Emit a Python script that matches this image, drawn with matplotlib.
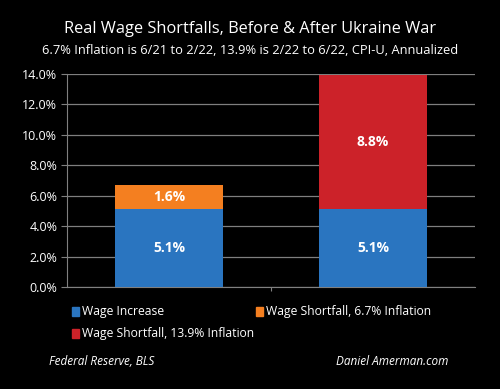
import matplotlib.pyplot as plt
from matplotlib.patches import Rectangle
import numpy as np

# data
categories = ["Before", "After"]
wage_increase = [5.1, 5.1]
shortfall_67 = [1.6, 0.0]
shortfall_139 = [0.0, 8.8]
yticks = [0, 2, 4, 6, 8, 10, 12, 14]

BLUE = "#2a75c0"
ORANGE = "#f47f20"
RED = "#cc2229"
FONT = "Open Sans"

plt.rcParams['font.family'] = [FONT, 'DejaVu Sans']

fig = plt.figure(figsize=(5, 3.89), dpi=100, facecolor="black")
ax = fig.add_axes([0.134, 0.262, 0.816, 0.548], facecolor="black")

x = np.arange(len(categories))
w = 0.525
ax.bar(x, wage_increase, w, color=BLUE, zorder=3)
ax.bar(x, shortfall_67, w, bottom=wage_increase, color=ORANGE, zorder=3)
ax.bar(x, shortfall_139, w, bottom=np.array(wage_increase) + np.array(shortfall_67),
       color=RED, zorder=3)

# value labels
for i in range(len(categories)):
    ax.text(x[i], wage_increase[i] / 2, "%.1f%%" % wage_increase[i], color="white",
            ha="center", va="center", fontsize=10, fontweight="bold", zorder=4)
    for vals in (shortfall_67, shortfall_139):
        if vals[i] > 0:
            ax.text(x[i], wage_increase[i] + vals[i] / 2, "%.1f%%" % vals[i], color="white",
                    ha="center", va="center", fontsize=10, fontweight="bold", zorder=4)

ax.set_xlim(-0.5, 1.5)
ax.set_ylim(0, 14)
ax.set_yticks(yticks)
ax.set_yticklabels(["%.1f%%" % t for t in yticks], color="white", fontsize=9)
ax.set_xticks([0.5])
ax.set_xticklabels([""])
ax.tick_params(axis="y", length=4, color="#808080", pad=3)
ax.tick_params(axis="x", length=3, color="#808080")
ax.grid(axis="y", color="#7f7f7f", linewidth=0.9, zorder=0)
for s in ["top", "right"]:
    ax.spines[s].set_visible(False)
ax.spines["left"].set_color("#808080")
ax.spines["bottom"].set_color("#808080")

# titles
fig.text(0.5, 0.925, "Real Wage Shortfalls, Before & After Ukraine War", color="white",
         ha="center", va="center", fontsize=11.8)
fig.text(0.5, 0.87, "6.7% Inflation is 6/21 to 2/22, 13.9% is 2/22 to 6/22, CPI-U, Annualized",
         color="white", ha="center", va="center", fontsize=9.3)

# legend
legend_items = [
    (0.144, 0.199, BLUE, "Wage Increase"),
    (0.512, 0.199, ORANGE, "Wage Shortfall, 6.7% Inflation"),
    (0.144, 0.143, RED, "Wage Shortfall, 13.9% Inflation"),
]
for lx, ly, c, lab in legend_items:
    fig.patches.append(Rectangle((lx, ly - 0.011), 0.013, 0.022, color=c,
                                 transform=fig.transFigure, figure=fig))
    fig.text(lx + 0.02, ly, lab, color="white", ha="left", va="center", fontsize=8.7)

fig.text(0.098, 0.07, "Federal Reserve, BLS", color="white", style="italic",
         ha="left", va="center", fontsize=8.5)
fig.text(0.896, 0.07, "Daniel Amerman.com", color="white", style="italic",
         ha="right", va="center", fontsize=8.5)

fig.savefig("out.png", dpi=100, facecolor="black")
